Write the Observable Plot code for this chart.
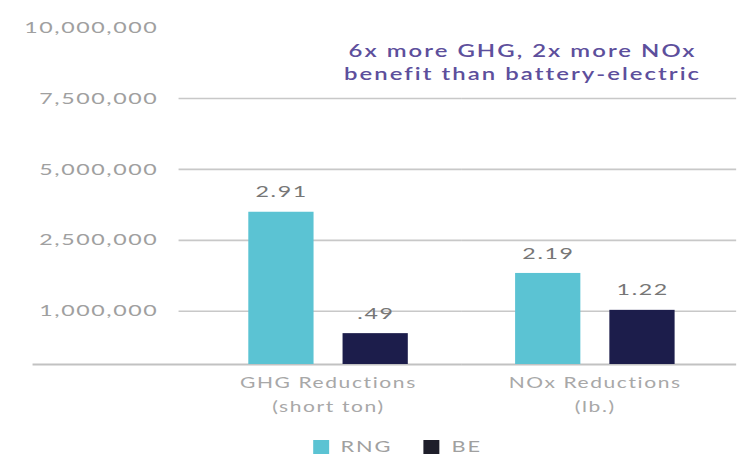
<!DOCTYPE html>
<html>
<head>
<meta charset="utf-8">
<script src="https://cdn.jsdelivr.net/npm/d3@7"></script>
<script src="https://cdn.jsdelivr.net/npm/@observablehq/plot@0.6"></script>
<style>
  html, body { margin: 0; padding: 0; background: #fff; }
  #chart svg { display: block; }
  #legend { position: relative; height: 25px; transform-origin: 0 0; font-family: Lato, sans-serif; font-size: 15px; color: #a0a0a0; letter-spacing: 1.3px; }
  #legend .item { position: absolute; top: 0; height: 25px; line-height: 25px; white-space: nowrap; }
  #legend .sw { display: inline-block; width: 11px; height: 14px; vertical-align: -2px; margin-right: 8px; }
</style>
</head>
<body>
<div id="chart"></div>
<div id="legend"></div>
<script>
// ---- data ----
const categories = ["GHG Reductions\n(short ton)", "NOx Reductions\n(lb.)"];
const series = ["RNG", "BE"];
const seriesColors = ["#5bc3d3", "#1c1d4b"];
const rngValues = [3490000, 1800000];
const beValues = [580000, 1020000];
const rngLabels = ["2.91", "2.19"];
const beLabels = [".49", "1.22"];
const yTicks = [1000000, 2500000, 5000000, 7500000, 10000000];
const yTickLabels = ["1,000,000", "2,500,000", "5,000,000", "7,500,000", "10,000,000"];
const gridTicks = [1000000, 2500000, 5000000, 7500000];
const annotation = "6x more GHG, 2x more NOx\nbenefit than battery-electric";

// ---- layout ----
const k = 1.45;            // horizontal stretch of the original artwork
const W = 737, H = 434;
const w = W / k;
const frameLeft = 178, facetLeft = 193.75, facetRight = 728.75; // in stretched pixels
const annotationColor = "#5d4f9c";

// the reference axis is not linear: its ticks are (almost) evenly spaced
const yPiecewise = d3.scaleLinear().domain([0, ...yTicks]).range([0, 0.75, 1.75, 2.75, 3.75, 4.75]);

const data = categories.flatMap((c, i) => [
  {cat: c, series: series[0], value: rngValues[i], label: rngLabels[i]},
  {cat: c, series: series[1], value: beValues[i], label: beLabels[i]}
]);

const first = () => categories[0];
const last = () => categories[categories.length - 1];

const plot = Plot.plot({
  width: w,
  height: H,
  marginTop: 27,
  marginBottom: 70,
  marginLeft: frameLeft / k,
  marginRight: 0,
  style: {fontFamily: "Lato, sans-serif", background: "#fff", letterSpacing: "1.1px", overflow: "visible"},
  fx: {domain: categories, paddingInner: 0, paddingOuter: 0.045, align: 0.65, axis: null, label: null},
  x: {domain: series, paddingInner: 0.304, paddingOuter: 0.5525, axis: null},
  y: {transform: (v) => yPiecewise(v), axis: null, nice: false, zero: true},
  color: {domain: series, range: seriesColors},
  marks: [
    // grid lines: left facet extended to the frame's left, right facet to the page edge
    Plot.ruleY(gridTicks, {fx: first, y: (d) => d, stroke: "#c8c8c8", strokeWidth: 1.6,
      insetLeft: -(facetLeft - frameLeft) / k}),
    Plot.ruleY(gridTicks, {fx: last, y: (d) => d, stroke: "#c8c8c8", strokeWidth: 1.6,
      insetRight: -(W - facetRight) / k}),
    Plot.ruleY([0], {fx: first, y: (d) => d, stroke: "#c2c2c2", strokeWidth: 2,
      insetLeft: -(facetLeft - 32) / k}),
    Plot.ruleY([0], {fx: last, y: (d) => d, stroke: "#c2c2c2", strokeWidth: 2,
      insetRight: -(W - facetRight) / k}),
    Plot.text(yTicks, {
      fx: first, y: (d) => d, text: (d, i) => yTickLabels[i],
      frameAnchor: "left", textAnchor: "end", dx: -(facetLeft - 157) / k,
      fill: "#a0a0a0", fontSize: 16
    }),
    Plot.barY(data, {fx: "cat", x: "series", y: "value", fill: "series"}),
    Plot.text(data, {
      fx: "cat", x: "series", y: "value", text: "label",
      dy: -20, fill: "#767676", fontSize: 16
    }),
    Plot.text(categories, {
      fx: (d) => d, text: (d) => d, frameAnchor: "bottom", lineAnchor: "top",
      dy: 7, lineHeight: 1.65, fill: "#a8a8a8", fontSize: 14.5
    }),
    Plot.text([annotation], {
      fx: last, text: (d) => d, frameAnchor: "top-left", textAnchor: "middle", lineAnchor: "middle",
      dx: (522 - (facetLeft + facetRight) / 2) / k, dy: 34, lineHeight: 1.4,
      fill: annotationColor, fontSize: 16.5, fontWeight: 600
    })
  ]
});

plot.querySelectorAll(`g[fill="${annotationColor}"]`).forEach((g) => g.style.letterSpacing = "1.4px");
plot.setAttribute("width", W);
plot.setAttribute("preserveAspectRatio", "none");
plot.style.width = W + "px";
plot.style.height = H + "px";
document.getElementById("chart").appendChild(plot);

// ---- legend (same horizontal stretch) ----
const legend = document.getElementById("legend");
legend.style.width = w + "px";
legend.style.transform = `scaleX(${k})`;
const legendLeft = [313 / k, 424 / k];
series.forEach((s, i) => {
  const item = document.createElement("div");
  item.className = "item";
  item.style.left = legendLeft[i] + "px";
  const sw = document.createElement("span");
  sw.className = "sw";
  sw.style.background = i === 0 ? seriesColors[0] : "#1e1e2a";
  item.appendChild(sw);
  item.appendChild(document.createTextNode(s));
  legend.appendChild(item);
});
</script>
</body>
</html>
